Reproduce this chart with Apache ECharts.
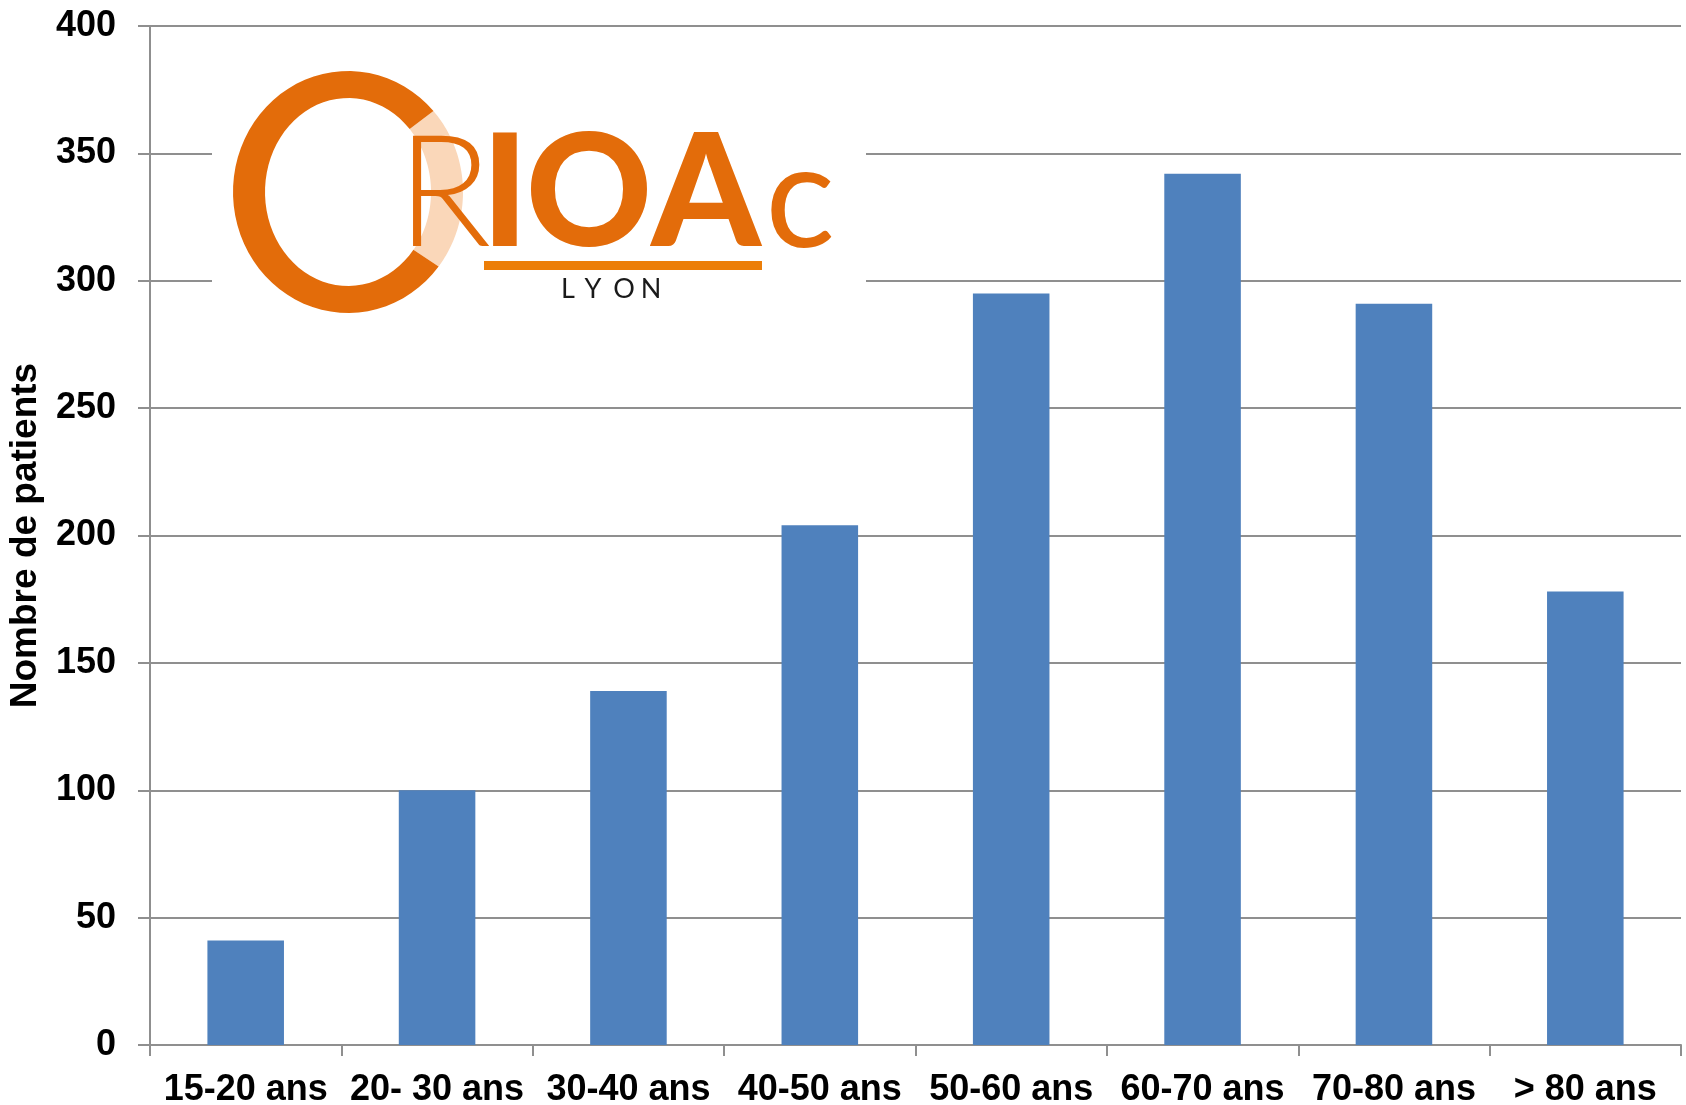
<!DOCTYPE html>
<html>
<head>
<meta charset="utf-8">
<script src="https://cdn.jsdelivr.net/npm/echarts@6/dist/echarts.min.js"></script>
<style>
  html, body { margin: 0; padding: 0; background: #fff; }
  #chart { width: 1686px; height: 1105px; }
</style>
</head>
<body>
<div id="chart"></div>
<script>
// données
const categories = ['15-20 ans', '20- 30 ans', '30-40 ans', '40-50 ans', '50-60 ans', '60-70 ans', '70-80 ans', '> 80 ans']
const patients = [41, 100, 139, 204, 295, 342, 291, 178]
const yMin = 0
const yMax = 400
const yStep = 50

const orange = '#E36C0A'
const peach = '#FAD7B9'

// anneau elliptique (logo), angles en degrés, sens horaire
function ringPoints(cx, cy, rx, ry, irx, iry, a0, a1) {
  const pts = []
  const n = 60
  for (let i = 0; i <= n; i++) {
    const a = (a0 + (a1 - a0) * i / n) * Math.PI / 180
    pts.push([cx + rx * Math.cos(a), cy + ry * Math.sin(a)])
  }
  for (let i = n; i >= 0; i--) {
    const a = (a0 + (a1 - a0) * i / n) * Math.PI / 180
    pts.push([cx + irx * Math.cos(a), cy + iry * Math.sin(a)])
  }
  return pts
}

function letter(txt, x, y, size, weight, color, family) {
  return {
    type: 'text', x: x, y: y, z: 100, z2: 3,
    style: {
      text: txt, fill: color, fontSize: size, fontWeight: weight,
      fontFamily: family || 'Lato', align: 'center', verticalAlign: 'middle'
    }
  }
}

const chart = echarts.init(document.getElementById('chart'))
const axisGray = '#8f8f8f'
const option = {
  animation: false,
  backgroundColor: '#fff',
  grid: { left: 150, right: 5, top: 26, bottom: 60, containLabel: false, outerBoundsMode: 'none' },
  xAxis: {
    type: 'category',
    data: categories,
    axisLine: { lineStyle: { color: axisGray, width: 2 } },
    axisTick: { show: true, length: 11, lineStyle: { color: axisGray, width: 2 } },
    axisLabel: {
      color: '#000', fontSize: 36, fontWeight: 'bold',
      fontFamily: 'Liberation Sans', margin: 27, interval: 0
    }
  },
  yAxis: {
    type: 'value',
    min: yMin, max: yMax, interval: yStep,
    name: 'Nombre de patients',
    nameLocation: 'middle',
    nameRotate: 90,
    nameGap: 106,
    nameTextStyle: { color: '#000', fontSize: 37, fontWeight: 'bold', fontFamily: 'Liberation Sans' },
    axisLine: { show: true, lineStyle: { color: axisGray, width: 2 } },
    axisTick: { show: true, length: 12, lineStyle: { color: axisGray, width: 2 } },
    axisLabel: {
      color: '#000', fontSize: 36, fontWeight: 'bold',
      fontFamily: 'Liberation Sans', margin: 34
    },
    splitLine: { show: true, lineStyle: { color: axisGray, width: 2 } }
  },
  series: [{
    type: 'bar',
    data: patients,
    barWidth: '40%',
    itemStyle: { color: '#4F81BD' }
  }],
  graphic: [
    { type: 'rect', z: 100, z2: 0, shape: { x: 212, y: 40, width: 654, height: 330 }, style: { fill: '#fff' } },
    { type: 'polygon', z: 100, z2: 1, shape: { points: ringPoints(348, 192, 115, 121, 83, 94, -42, 38) }, style: { fill: peach } },
    { type: 'polygon', z: 100, z2: 2, shape: { points: ringPoints(348, 192, 115, 121, 83, 94, 38, 318) }, style: { fill: orange } },
    letter('R', 444, 196, 156, 300, orange),
    letter('I', 505, 196, 156, 900, orange),
    letter('O', 589, 196, 156, 900, orange),
    letter('A', 706, 196, 156, 900, orange),
    letter('c', 800, 200, 146, 400, orange),
    { type: 'rect', z: 100, z2: 2, shape: { x: 484, y: 261, width: 278, height: 9 }, style: { fill: '#EC7E08' } },
    letter('L', 568, 289, 27, 400, '#1a1a1a'),
    letter('Y', 593, 289, 27, 400, '#1a1a1a'),
    letter('O', 624, 289, 27, 400, '#1a1a1a'),
    letter('N', 651, 289, 27, 400, '#1a1a1a')
  ]
}
chart.setOption(option)
</script>
</body>
</html>
